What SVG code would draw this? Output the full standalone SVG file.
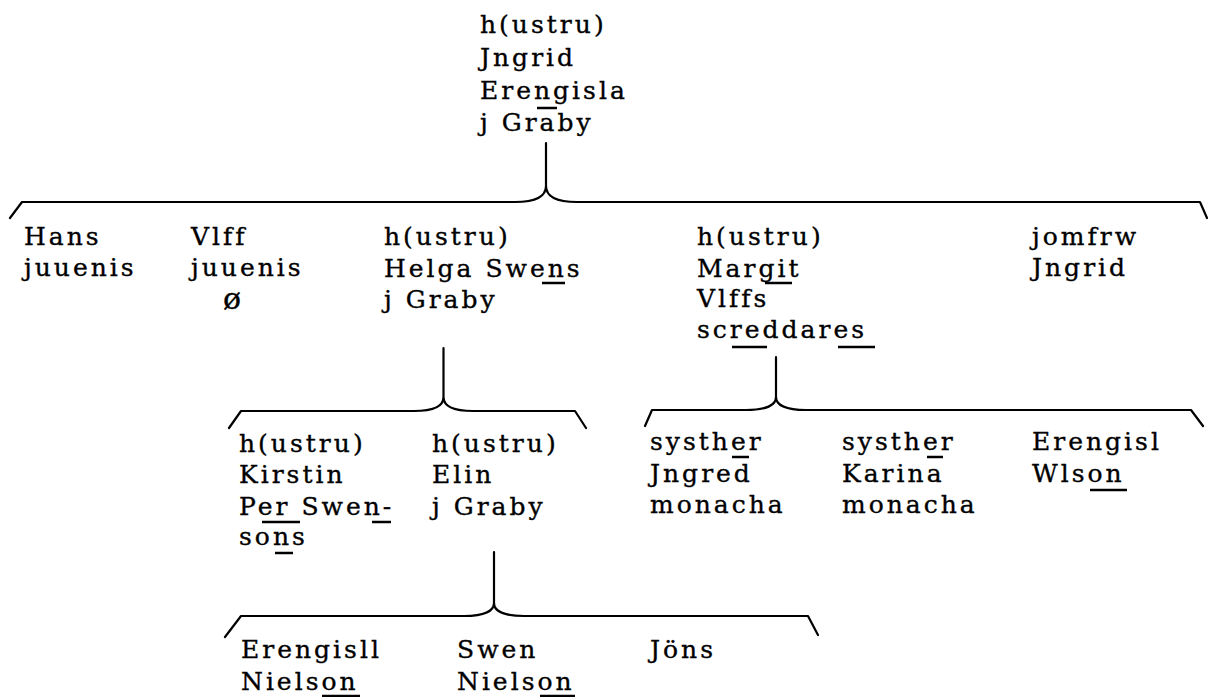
<svg xmlns="http://www.w3.org/2000/svg" width="1208" height="697" viewBox="0 0 1208 697">
<style>
text{font-family:"DejaVu Serif","Liberation Serif",serif;font-size:25px;letter-spacing:3px;fill:#000;stroke:#000;stroke-width:0.35}
.big{font-size:30px}
.u{stroke:#000;stroke-width:2.5}
.c{fill:none;stroke:#000;stroke-width:2.2;stroke-linejoin:round;stroke-linecap:round}
</style>
<rect width="1208" height="697" fill="#fff"/>
<g id="connectors">
<path class="c" d="M546,143 L546,186 M10,218 L22,202 L515,202 C535,202 546,197 546,186 C546,197 557,202 577,202 L1200,202 L1207,218"/>
<path class="c" d="M443.5,348 L443.5,397 M229,428 L241,411 L414,411 C434,411 443.5,406 443.5,397 C443.5,406 453,411 473,411 L575,411 L586,428"/>
<path class="c" d="M776,357 L776,397 M645,426 L652,410 L746,410 C766,410 776,405 776,397 C776,405 786,410 806,410 L1191,410 L1203,426"/>
<path class="c" d="M494,552 L494,603 M225,637 L241,616 L464,616 C484,616 494,611 494,603 C494,611 504,616 524,616 L808,616 L818,635"/>
</g>
<g id="n-top">
<text x="480" y="33">h(ustru)</text>
<text x="480" y="66">Jngrid</text>
<text x="480" y="99">Erengisla</text>
<text x="480" y="131">j Graby</text>
<line class="u" x1="537" y1="108" x2="557" y2="108"/>
</g>
<g id="n-hans">
<text x="24" y="245">Hans</text>
<text x="24" y="276">juuenis</text>
</g>
<g id="n-vlff">
<text x="191" y="245">Vlff</text>
<text x="191" y="276">juuenis</text>
<text class="big" x="223" y="309">ø</text>
</g>
<g id="n-helga">
<text x="384" y="245">h(ustru)</text>
<text x="384" y="277">Helga Swens</text>
<text x="384" y="308">j Graby</text>
<line class="u" x1="542" y1="283" x2="565" y2="283"/>
</g>
<g id="n-margit">
<text x="697" y="245">h(ustru)</text>
<text x="697" y="277">Margit</text>
<text x="697" y="307">Vlffs</text>
<text x="697" y="338">screddares</text>
<line class="u" x1="765" y1="283" x2="792" y2="283"/>
<line class="u" x1="732" y1="347" x2="767" y2="347"/>
<line class="u" x1="838" y1="347" x2="875" y2="347"/>
</g>
<g id="n-jomfrw">
<text x="1032" y="245">jomfrw</text>
<text x="1032" y="276">Jngrid</text>
</g>
<g id="n-kirstin">
<text x="239" y="452">h(ustru)</text>
<text x="239" y="483">Kirstin</text>
<text x="239" y="515">Per Swen-</text>
<text x="239" y="545">sons</text>
<line class="u" x1="262" y1="522" x2="300" y2="522"/>
<line class="u" x1="372" y1="522" x2="391" y2="522"/>
<line class="u" x1="275" y1="553" x2="293" y2="553"/>
</g>
<g id="n-elin">
<text x="432" y="452">h(ustru)</text>
<text x="432" y="483">Elin</text>
<text x="432" y="515">j Graby</text>
</g>
<g id="n-jngred">
<text x="650" y="450">systher</text>
<text x="650" y="482">Jngred</text>
<text x="650" y="513">monacha</text>
<line class="u" x1="732" y1="457" x2="749" y2="457"/>
</g>
<g id="n-karina">
<text x="842" y="450">systher</text>
<text x="842" y="482">Karina</text>
<text x="842" y="513">monacha</text>
<line class="u" x1="927" y1="457" x2="943" y2="457"/>
</g>
<g id="n-erengisl">
<text x="1032" y="450">Erengisl</text>
<text x="1032" y="482">Wlson</text>
<line class="u" x1="1090" y1="490" x2="1127" y2="490"/>
</g>
<g id="n-erengisll">
<text x="241" y="658">Erengisll</text>
<text x="241" y="690">Nielson</text>
<line class="u" x1="322" y1="696" x2="360" y2="696"/>
</g>
<g id="n-swen">
<text x="457" y="658">Swen</text>
<text x="457" y="690">Nielson</text>
<line class="u" x1="540" y1="696" x2="575" y2="696"/>
</g>
<g id="n-jons">
<text x="650" y="658">Jöns</text>
</g>
</svg>
